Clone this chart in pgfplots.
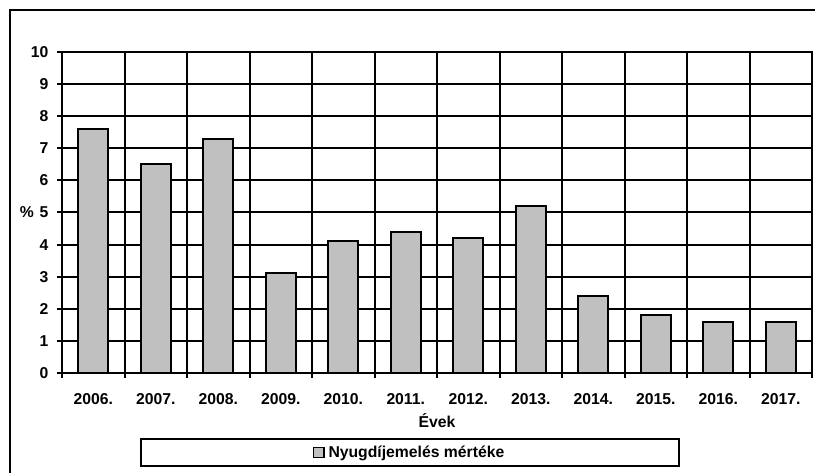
\documentclass[border=0pt]{standalone}
\usepackage{fontspec}
\setmainfont{Liberation Sans}
\usepackage{pgfplots}
\pgfplotsset{compat=1.18}
\definecolor{bargray}{RGB}{192,192,192}

\begin{document}
\begin{tikzpicture}
\useasboundingbox (0,0) rectangle (611.25pt,-354.75pt);
% outer frame of the chart area
\draw[line width=1.5pt] (620pt,-7.5pt) -- (7.5pt,-7.5pt) -- (7.5pt,-365pt);
\begin{axis}[
    at={(46.5pt,-279.75pt)},
    anchor=south west,
    scale only axis,
    width=562.5pt,
    height=240.75pt,
    ybar,
    bar width=22.5pt,
    xmin=-0.5, xmax=11.5,
    ymin=0, ymax=10,
    xtick={0,...,11},
    xticklabels={2006.,2007.,2008.,2009.,2010.,2011.,2012.,2013.,2014.,2015.,2016.,2017.},
    minor xtick={-0.5,0.5,...,11.5},
    ytick={0,...,10},
    xminorgrids, ymajorgrids,
    grid style={black, line width=1.5pt},
    minor grid style={black, line width=1.5pt},
    major x tick style={draw=none},
    tick align=outside,
    tick pos=left,
    major tick length=3.75pt,
    minor tick length=3.75pt,
    tick style={black, line width=1.5pt},
    axis line style={line width=1.6pt},
    /pgf/number format/assume math mode=true,
    tick label style={font=\fontsize{11.8}{13}\selectfont\bfseries},
    yticklabel style={xshift=-3pt},
    xticklabel style={yshift=-8pt},
    xlabel={Évek},
    ylabel={\%},
    label style={font=\fontsize{11.8}{13}\selectfont\bfseries},
    xlabel style={at={(axis description cs:0.5,-0.1495)}, anchor=center},
    ylabel style={at={(axis description cs:-0.0467,0.5)}, anchor=center, rotate=-90},
    legend style={
        at={(rel axis cs:0.464,-0.2477)}, anchor=center,
        draw=black, line width=1.5pt,
        font=\fontsize{11.8}{13}\selectfont\bfseries,
        inner xsep=129pt, inner ysep=3pt,
        /tikz/every odd column/.append style={column sep=1pt},
    },
    legend image code/.code={
        \draw[fill=bargray, draw=black, line width=1pt] (0pt,-3.8pt) rectangle (7.6pt,3.8pt);
    },
]
\addplot[fill=bargray, draw=black, line width=1.5pt] coordinates {
    (0,7.6) (1,6.5) (2,7.3) (3,3.1) (4,4.1) (5,4.4)
    (6,4.2) (7,5.2) (8,2.4) (9,1.8) (10,1.6) (11,1.6)
};
\legend{Nyugdíjemelés mértéke}
\end{axis}
\end{tikzpicture}
\end{document}
